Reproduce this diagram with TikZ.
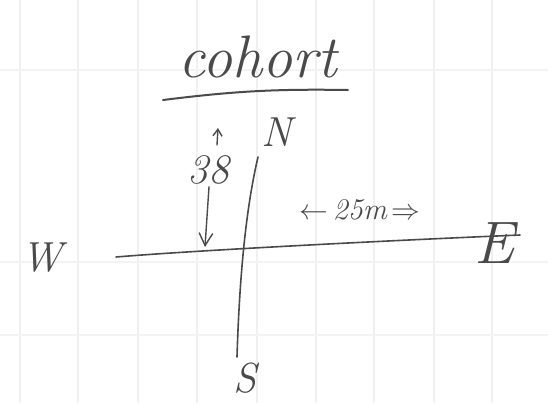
\documentclass[tikz,border=0pt]{standalone}
\usepackage{tikz}
\usetikzlibrary{arrows.meta,positioning}
\definecolor{PaperGrid}{HTML}{F0F0F0}
\definecolor{Pencil}{HTML}{4A4A4A}
\tikzset{
  gridline/.style={draw=PaperGrid,line width=1.2pt},
  pencil/.style={draw=Pencil,line width=0.8pt,line cap=round},
  pencilarrow/.style={-{Straight Barb[length=2.2mm,width=2.4mm]},draw=Pencil,line width=0.7pt,line cap=round},
  hand/.style={text=Pencil,font=\itshape,inner sep=1pt},
  compass/.style={hand,font=\fontsize{21}{21}\selectfont\itshape}
}

\begin{document}
\begin{tikzpicture}[x=0.5pt,y=-0.5pt]
\useasboundingbox (0,0) rectangle (548,403);
% paper
\foreach \gx in {20,78,138,197,257,316,374,434,492} {\draw[gridline] (\gx,0)--(\gx,403);}
\foreach \gy in {70,262,335} {\draw[gridline,PaperGrid!80] (0,\gy)--(548,\gy);}

\node[hand,font=\fontsize{30}{30}\selectfont\itshape] (title) at (258,57) {cohort};
\coordinate (ul1) at (163,100);
\coordinate (ul2) at (348,90);
\draw[pencil,line width=1pt] (ul1) to[bend left=4] (ul2);

% compass cross
\node[compass] (N) at (277,132) {N};
\node[compass] (S) at (245,378) {S};
\node[compass] (W) at (42,258) {W};
\node[compass,font=\fontsize{30}{30}\selectfont\itshape] (E) at (494,243) {E};
\coordinate (ntop) at (258,157);
\coordinate (sbot) at (237,357);
\coordinate (wend) at (116,257);
\coordinate (eend) at (520,235);
\draw[pencil] (ntop) .. controls (248,200) and (240,260) .. (sbot);
\draw[pencil] (wend) .. controls (200,250) and (400,240) .. (eend);

% bearing
\node[compass] (deg) at (209,170) {38};
\coordinate (degup1) at (217,145);
\coordinate (degup2) at (218,128);
\coordinate (degtip) at (205,247);
\draw[pencilarrow,-{Straight Barb[length=1.2mm,width=1.6mm]}] (degup1)--(degup2);
\draw[pencilarrow] (deg.south) -- (degtip);

% distance
\node[hand,font=\fontsize{15}{15}\selectfont\itshape] (dist) at (360,210) {$\leftarrow$\,25m\,$\Rightarrow$};
\end{tikzpicture}
\end{document}
